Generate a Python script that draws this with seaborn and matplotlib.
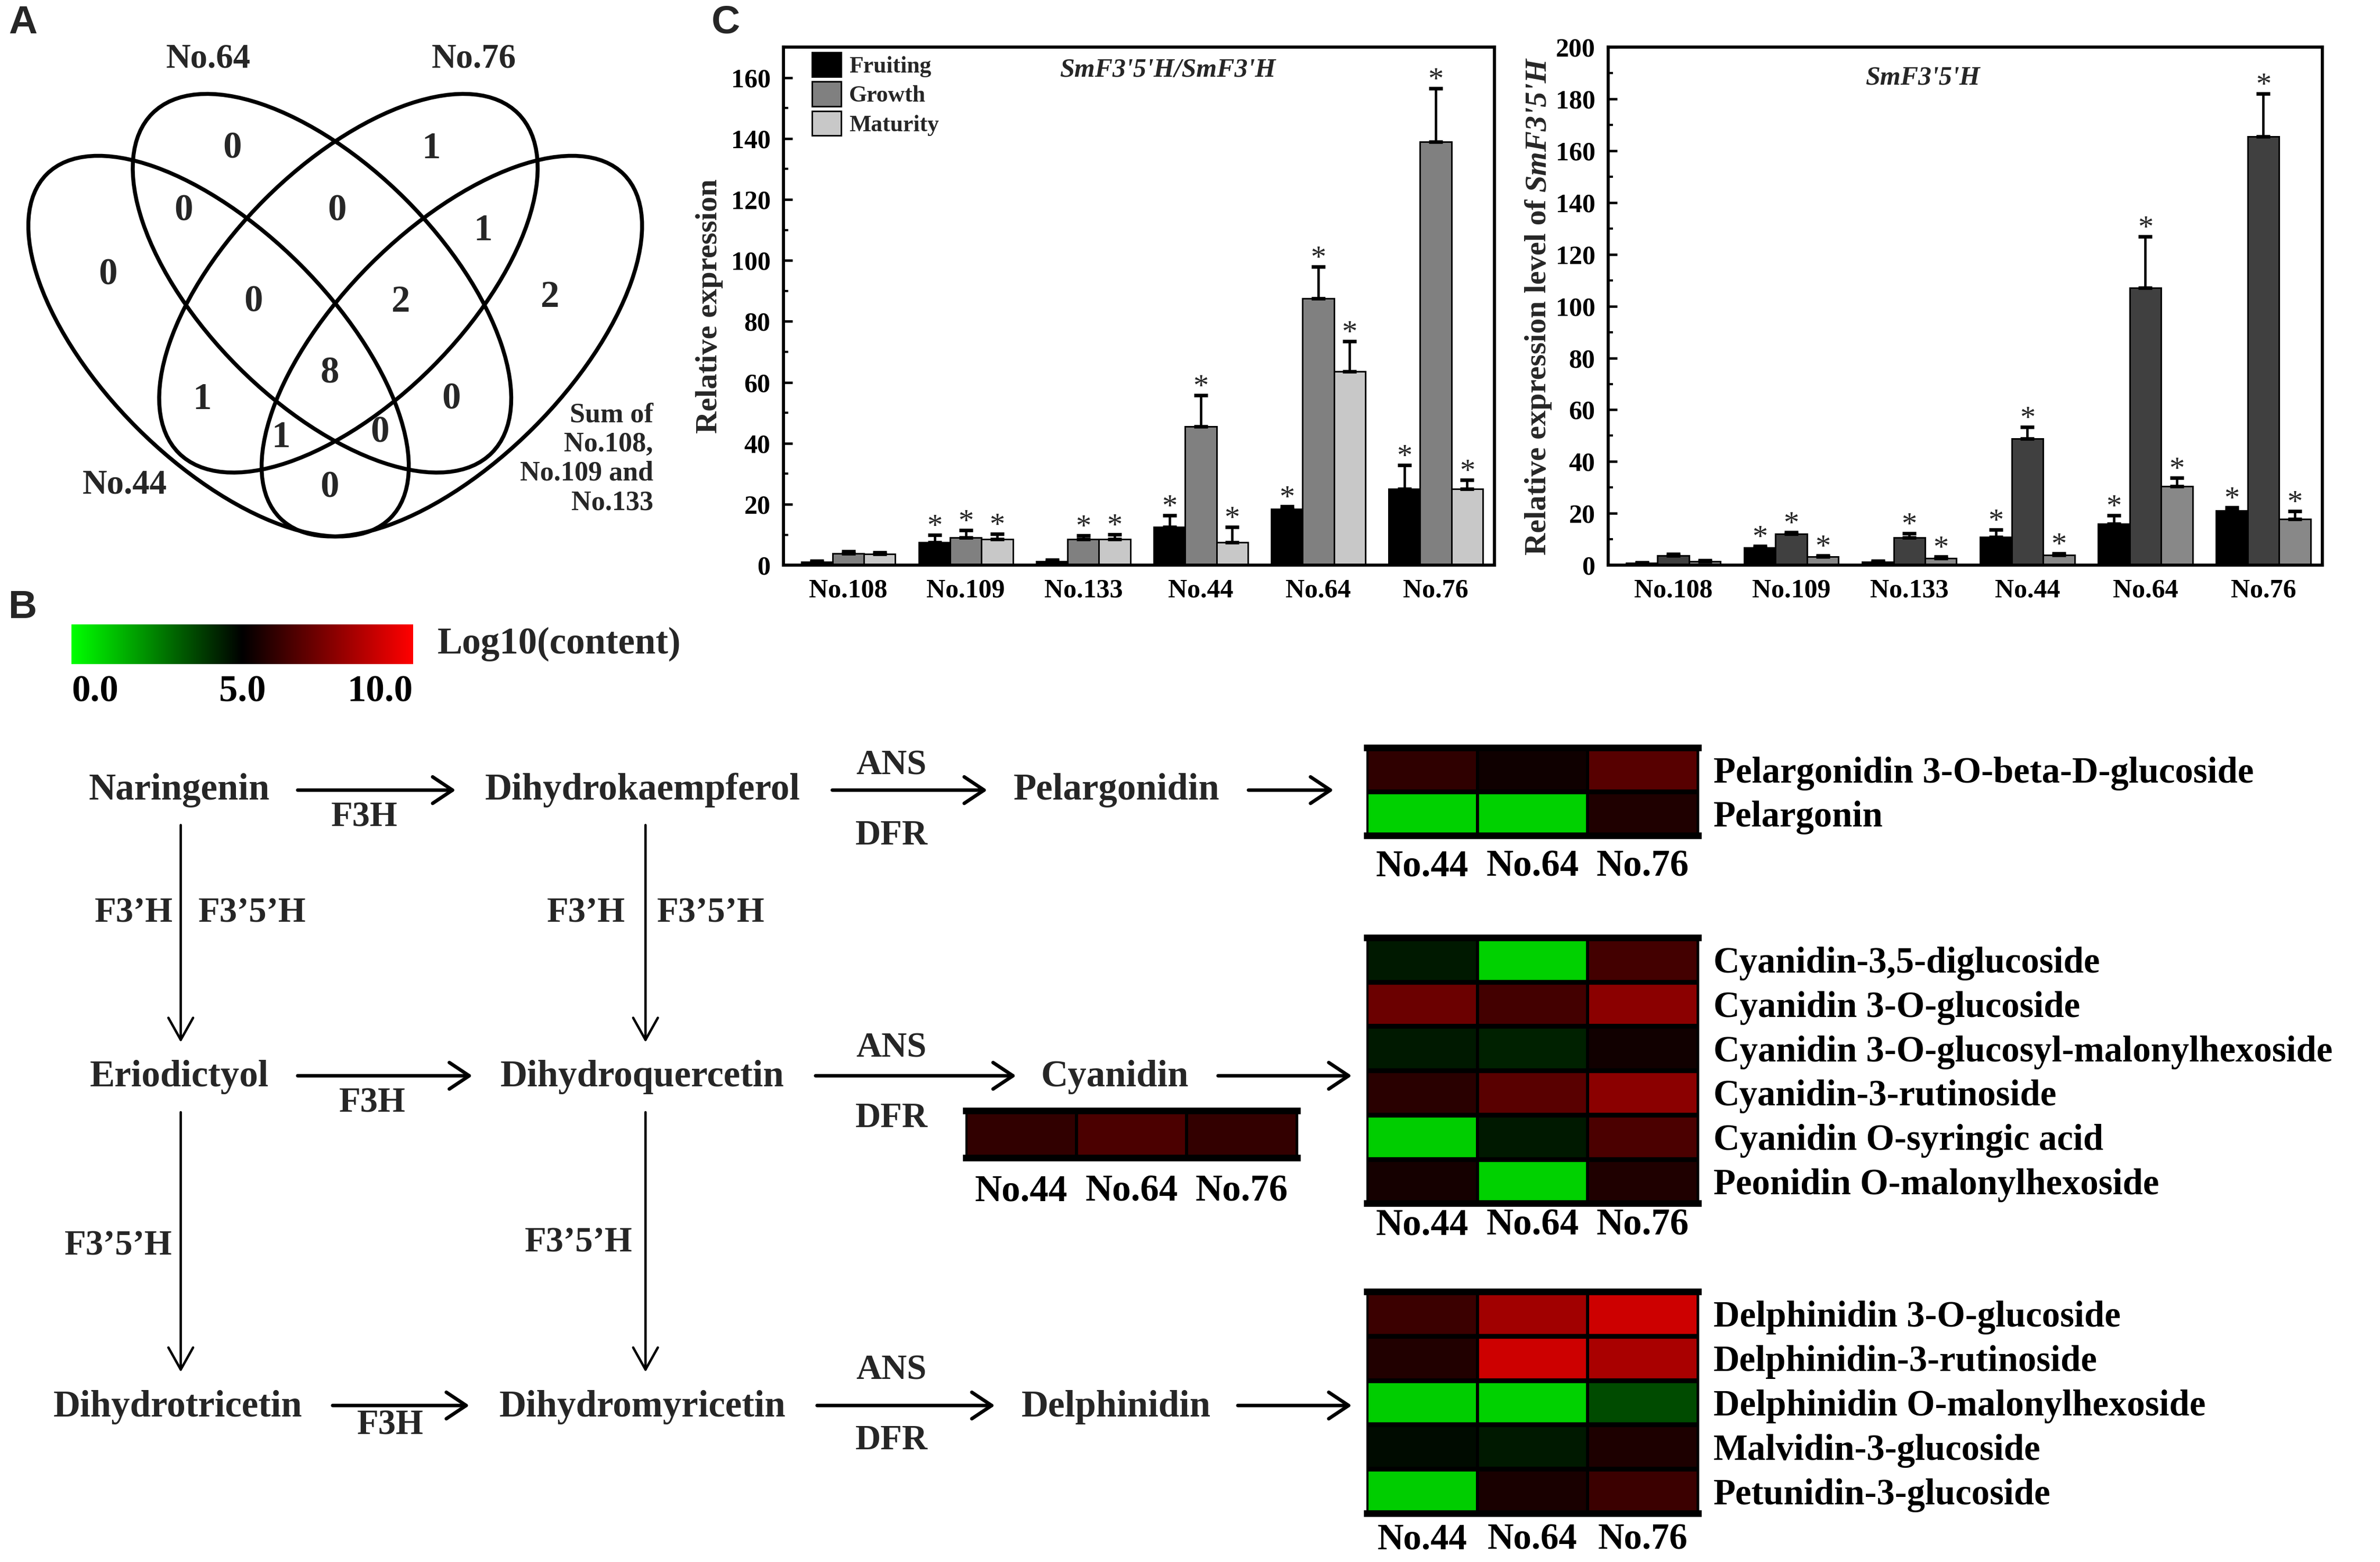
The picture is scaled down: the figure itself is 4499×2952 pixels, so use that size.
import numpy as np
import pandas as pd
import matplotlib
matplotlib.use("Agg")
import matplotlib.pyplot as plt
import seaborn as sns
from matplotlib.patches import Ellipse, Rectangle
from matplotlib.colors import LinearSegmentedColormap, Normalize
from matplotlib.cm import ScalarMappable
from matplotlib.ticker import MultipleLocator

# ---------------- data ----------------
samples = ["No.108", "No.109", "No.133", "No.44", "No.64", "No.76"]
stages = ["Fruiting", "Growth", "Maturity"]

# SmF3'5'H / SmF3'H
ratio_fruiting = [1.0, 7.5, 1.3, 12.5, 18.5, 25.0]
ratio_fruiting_err = [0.4, 2.5, 0.4, 3.8, 0.8, 7.8]
ratio_growth = [3.8, 9.0, 8.5, 45.5, 87.5, 139.0]
ratio_growth_err = [0.8, 2.5, 1.2, 10.2, 10.5, 17.5]
ratio_maturity = [3.7, 8.5, 8.6, 7.5, 63.5, 25.0]
ratio_maturity_err = [0.5, 1.8, 1.5, 5.0, 10.0, 3.0]
ratio_sig = [[0, 1, 0, 1, 1, 1], [0, 1, 1, 1, 1, 1], [0, 1, 1, 1, 1, 1]]

# SmF3'5'H
f35h_fruiting = [0.8, 6.8, 1.2, 10.8, 16.0, 21.0]
f35h_fruiting_err = [0.2, 0.5, 0.4, 3.0, 3.3, 1.3]
f35h_growth = [3.8, 12.2, 10.6, 48.8, 107.0, 165.5]
f35h_growth_err = [0.6, 0.6, 1.8, 4.5, 19.8, 16.5]
f35h_maturity = [1.5, 3.3, 2.8, 4.0, 30.5, 17.8]
f35h_maturity_err = [0.4, 0.5, 0.6, 0.6, 3.2, 3.0]
f35h_sig = [[0, 1, 0, 1, 1, 1], [0, 1, 1, 1, 1, 1], [0, 1, 1, 1, 1, 1]]

# Venn (panel A)
venn_sets = ["No.44", "No.64", "No.76", "Sum of\nNo.108,\nNo.109 and\nNo.133"]
venn_counts = [0, 1, 0, 0, 1, 0, 0, 2, 2, 8, 1, 0, 1, 0, 0]

# heatmaps, Log10(content)
hm_samples = ["No.44", "No.64", "No.76"]
pel_names = ["Pelargonidin 3-O-beta-D-glucoside", "Pelargonin"]
pel_content = [[5.9, 5.3, 6.7],
               [0.9, 0.9, 5.6]]
cyanidin_content = [[5.95, 6.45, 6.0]]
cya_names = ["Cyanidin-3,5-diglucoside", "Cyanidin 3-O-glucoside",
             "Cyanidin 3-O-glucosyl-malonylhexoside", "Cyanidin-3-rutinoside",
             "Cyanidin O-syringic acid", "Peonidin O-malonylhexoside"]
cya_content = [[4.5, 0.9, 6.3],
               [7.1, 6.3, 7.7],
               [4.5, 4.35, 5.35],
               [5.8, 6.75, 7.7],
               [1.0, 4.5, 6.45],
               [5.4, 0.9, 5.6]]
del_names = ["Delphinidin 3-O-glucoside", "Delphinidin-3-rutinoside",
             "Delphinidin O-malonylhexoside", "Malvidin-3-glucoside",
             "Petunidin-3-glucoside"]
del_content = [[6.15, 8.15, 9.0],
               [5.65, 9.0, 8.3],
               [1.0, 0.9, 3.55],
               [4.8, 4.5, 5.55],
               [1.0, 5.5, 6.15]]

# ---------------- style ----------------
sns.set_style("ticks", {"axes.edgecolor": "black"})
plt.rcParams["font.family"] = ["Liberation Serif", "DejaVu Serif"]
plt.rcParams["font.weight"] = "bold"
plt.rcParams["axes.labelweight"] = "bold"
plt.rcParams["xtick.color"] = "black"
plt.rcParams["ytick.color"] = "black"

W, H = 1567.0, 1028.0
DPI = 300
fig = plt.figure(figsize=(4499 / DPI, 2952 / DPI), dpi=DPI)


def box(x0, y0, x1, y1):
    return [x0 / W, 1 - y1 / H, (x1 - x0) / W, (y1 - y0) / H]


cmap = LinearSegmentedColormap.from_list("gkr", ["#00ff00", "#000000", "#ff0000"])


# ---------------- panel C: bar charts ----------------
def bar_panel(rect, vals, errs, sig, colors, ymax):
    ax = fig.add_axes(box(*rect))
    df = pd.DataFrame({
        "sample": samples * 3,
        "stage": np.repeat(stages, len(samples)),
        "value": vals[0] + vals[1] + vals[2],
    })
    sns.barplot(data=df, x="sample", y="value", hue="stage", order=samples,
                hue_order=stages, palette=colors, saturation=1, width=0.8,
                edgecolor="black", linewidth=0.7, errorbar=None, legend=False, ax=ax)
    for cont, e, s in zip(ax.containers, errs, sig):
        xs = [p.get_x() + p.get_width() / 2 for p in cont]
        hs = [p.get_height() for p in cont]
        ax.errorbar(xs, hs, yerr=[np.zeros(len(e)), e], fmt="none", ecolor="black",
                    elinewidth=1.1, capsize=3.2, capthick=1.6)
        for x, h, ee, ss in zip(xs, hs, e, s):
            if ss:
                ax.annotate("*", (x, h + ee), xytext=(0, 0), textcoords="offset points",
                            ha="center", va="baseline", fontsize=14, fontweight="normal")
    ax.set_xlim(-0.55, 5.5)
    ax.set_ylim(0, ymax)
    ax.yaxis.set_major_locator(MultipleLocator(20))
    ax.yaxis.set_minor_locator(MultipleLocator(10))
    ax.tick_params(axis="y", which="major", direction="in", length=4, width=1.1,
                   labelsize=12, pad=6)
    ax.tick_params(axis="y", which="minor", direction="in", length=2.2, width=1.0)
    ax.tick_params(axis="x", length=0, labelsize=12, pad=6)
    ax.set_xlabel("")
    ax.set_ylabel("")
    for sp in ax.spines.values():
        sp.set_linewidth(1.4)
        sp.set_visible(True)
    return ax


ax_c1 = bar_panel((516, 31, 984, 372),
                  [ratio_fruiting, ratio_growth, ratio_maturity],
                  [ratio_fruiting_err, ratio_growth_err, ratio_maturity_err],
                  ratio_sig, ["#000000", "#808080", "#c8c8c8"], 170)
handles = [Rectangle((0, 0), 1, 1, fc=c, ec="black", lw=0.7)
           for c in ["#000000", "#808080", "#c8c8c8"]]
ax_c1.legend(handles, stages, loc="upper left", bbox_to_anchor=(0.04, 0.99),
             frameon=False, fontsize=10.5, handlelength=1.25, handleheight=1.25,
             labelspacing=0.2, handletextpad=0.35, borderaxespad=0, borderpad=0)
ax_c1.text(0.54, 0.955, "SmF3'5'H/SmF3'H", transform=ax_c1.transAxes, ha="center",
           va="center", fontsize=12, style="italic")
fig.text(467 / W, 1 - 201.5 / H, "Relative expression", rotation=90,
         ha="center", va="center", fontsize=14)

ax_c2 = bar_panel((1059, 31, 1529, 372),
                  [f35h_fruiting, f35h_growth, f35h_maturity],
                  [f35h_fruiting_err, f35h_growth_err, f35h_maturity_err],
                  f35h_sig, ["#000000", "#404040", "#888888"], 200)
ax_c2.text(0.44, 0.94, "SmF3'5'H", transform=ax_c2.transAxes, ha="center",
           va="center", fontsize=12, style="italic")

# two-part rotated label (upright + italic)
renderer = fig.canvas.get_renderer()
fs = 14
t1 = fig.text(0, 0, "Relative expression level of", rotation=90, rotation_mode="anchor",
              ha="left", va="baseline", fontsize=fs)
t2 = fig.text(0, 0, "SmF3'5'H", rotation=90, rotation_mode="anchor",
              ha="left", va="baseline", fontsize=fs, style="italic")
fig_h = fig.bbox.height
l1 = t1.get_window_extent(renderer).height
l2 = t2.get_window_extent(renderer).height
gap = 0.25 * fs * DPI / 72
cy = (1 - 201.5 / H) * fig_h
y0 = cy - (l1 + gap + l2) / 2
xb = (1011 + 0.33 * fs / 0.689) / W
t1.set_position((xb, y0 / fig_h))
t2.set_position((xb, (y0 + l1 + gap) / fig_h))


# ---------------- panel B: heatmaps ----------------
def heat(rect, values, names, xpad, xsize=17):
    ax = fig.add_axes(box(*rect))
    df = pd.DataFrame(values, index=names if names else [""], columns=hm_samples)
    sns.heatmap(df, ax=ax, cmap=cmap, vmin=0, vmax=10, cbar=False,
                linewidths=1.0, linecolor="black", xticklabels=True,
                yticklabels=bool(names))
    if len(values) > 1:
        ax.hlines(np.arange(1, len(values)), 0, 3, colors="black", lw=2.2)
    for k, sp in ax.spines.items():
        sp.set_visible(True)
        sp.set_color("black")
        sp.set_linewidth(3.0 if k in ("top", "bottom") else 0.8)
    ax.tick_params(axis="x", length=0, pad=xpad, labelsize=xsize, rotation=0)
    if names:
        ax.yaxis.tick_right()
        ax.tick_params(axis="y", length=0, pad=7, labelsize=16.5, rotation=0)
    ax.set_xlabel("")
    ax.set_ylabel("")
    return ax


heat((900, 492, 1118, 550), pel_content, pel_names, 6.3)
heat((636, 731, 854, 762), cyanidin_content, None, 7.5)
heat((900, 617, 1118, 792), cya_content, cya_names, 2.2)
heat((900, 850, 1118, 996), del_content, del_names, 4.3, 16.5)

cax = fig.add_axes(box(47, 411, 272, 437))
cb = fig.colorbar(ScalarMappable(norm=Normalize(0, 10), cmap=cmap), cax=cax,
                  orientation="horizontal", ticks=[0, 5, 10])
cb.outline.set_visible(False)
cax.set_xticklabels(["0.0", "5.0", "10.0"])
cax.tick_params(length=0, labelsize=17, pad=5)
for t, ha in zip(cax.xaxis.get_major_ticks(), ["left", "center", "right"]):
    t.label1.set_horizontalalignment(ha)

# ---------------- annotation layer (coordinates in reference px) ----------------
ann = fig.add_axes([0, 0, 1, 1], zorder=5)
ann.set_xlim(0, W)
ann.set_ylim(H, 0)
ann.axis("off")
ann.patch.set_alpha(0)

for s, x, y in [("A", 15, 15), ("B", 15, 400), ("C", 478, 15)]:
    ann.text(x, y, s, fontsize=18, fontweight="bold", family="Liberation Sans",
             ha="center", va="center")

# Venn ellipses: centre, semi-axes, angle (y axis points down)
venn_shapes = [((143.9, 227.8), 160, 76, 45), ((212.0, 186.4), 158, 78, 45),
               ((229.4, 186.4), 158, 78, -45), ((297.5, 227.8), 160, 76, -45)]
for c, a, b, ang in venn_shapes:
    ann.add_patch(Ellipse(c, 2 * a, 2 * b, angle=ang, fill=False, ec="black", lw=1.8))

venn_xy = [(153, 98), (284, 98), (121, 139), (222, 139), (318, 152), (71, 181),
           (167, 199), (264, 199), (362, 196), (217, 246), (133, 263), (297, 263),
           (185, 288), (250, 285), (217, 321)]
for n, (x, y) in zip(venn_counts, venn_xy):
    ann.text(x, y, str(n), fontsize=17, ha="center", va="center")
ann.text(82, 319, venn_sets[0], fontsize=15.5, ha="center", va="center")
ann.text(137, 39, venn_sets[1], fontsize=15.5, ha="center", va="center")
ann.text(312, 39, venn_sets[2], fontsize=15.5, ha="center", va="center")
ann.text(430, 302, venn_sets[3], fontsize=12.5, ha="right", va="center",
         multialignment="right", linespacing=1.2)

ann.text(288, 424, "Log10(content)", fontsize=17, ha="left", va="center")


def harrow(x0, x1, y):
    ann.annotate("", xy=(x1, y), xytext=(x0, y),
                 arrowprops=dict(arrowstyle="->,head_length=0.45,head_width=0.3",
                                 lw=1.6, color="black", mutation_scale=20,
                                 shrinkA=0, shrinkB=0))


def varrow(x, y0, y1):
    ann.annotate("", xy=(x, y1), xytext=(x, y0),
                 arrowprops=dict(arrowstyle="->,head_length=0.5,head_width=0.28",
                                 lw=1.1, color="black", mutation_scale=20,
                                 shrinkA=0, shrinkB=0))


compounds = [("Naringenin", 118, 520), ("Dihydrokaempferol", 423, 520),
             ("Pelargonidin", 735, 520), ("Eriodictyol", 118, 709),
             ("Dihydroquercetin", 423, 709), ("Cyanidin", 734, 709),
             ("Dihydrotricetin", 117, 926), ("Dihydromyricetin", 423, 926),
             ("Delphinidin", 735, 926)]
for s, x, y in compounds:
    ann.text(x, y, s, fontsize=17, ha="center", va="center")

enzymes = [("F3H", 240, 538), ("F3H", 245, 726), ("F3H", 257, 938),
           ("ANS", 587, 504), ("DFR", 587, 550), ("ANS", 587, 690), ("DFR", 587, 736),
           ("ANS", 587, 902), ("DFR", 587, 948),
           ("F3\u2019H", 88, 601), ("F3\u20195\u2019H", 166, 601),
           ("F3\u2019H", 386, 601), ("F3\u20195\u2019H", 468, 601),
           ("F3\u20195\u2019H", 78, 820), ("F3\u20195\u2019H", 381, 818)]
for s, x, y in enzymes:
    ann.text(x, y, s, fontsize=16, ha="center", va="center")

for x0, x1, y in [(196, 300, 520), (548, 650, 520), (822, 878, 520),
                  (196, 311, 708), (537, 669, 708), (802, 890, 708),
                  (219, 309, 925), (538, 655, 925), (815, 890, 925)]:
    harrow(x0, x1, y)
for x in (119, 425):
    varrow(x, 543, 686)
    varrow(x, 732, 903)

fig.savefig("out.png", dpi=DPI)
